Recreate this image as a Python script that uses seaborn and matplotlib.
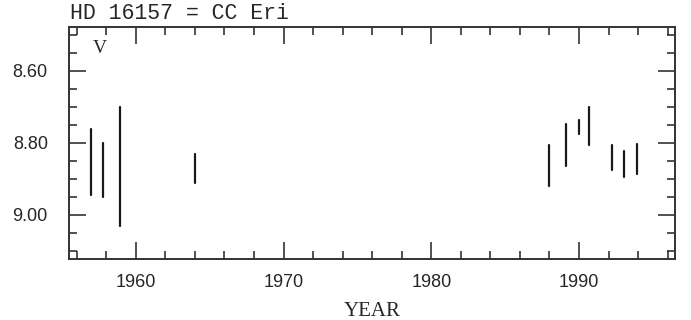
import matplotlib
matplotlib.use("Agg")
import matplotlib.pyplot as plt
from matplotlib.ticker import MultipleLocator, FormatStrFormatter
import seaborn as sns
import pandas as pd

# Data
years = [1957.0, 1957.8, 1958.9, 1964.0, 1988.0, 1989.1, 1990.0, 1990.7, 1992.2, 1993.05, 1993.9]
mag_bright = [8.762, 8.801, 8.701, 8.831, 8.807, 8.747, 8.737, 8.701, 8.807, 8.822, 8.802]
mag_faint = [8.945, 8.951, 9.031, 8.911, 8.920, 8.865, 8.776, 8.807, 8.876, 8.895, 8.886]

title = "HD 16157 = CC Eri"
band = "V"
xlabel = "YEAR"

rows = []
for i, (yr, b, f) in enumerate(zip(years, mag_bright, mag_faint)):
    rows.append({"year": yr, "mag": b, "id": i})
    rows.append({"year": yr, "mag": f, "id": i})
df = pd.DataFrame(rows)

sns.set_style("white")
fig = plt.figure(figsize=(6.91, 3.2), dpi=100)
ax = fig.add_axes([0.1003, 0.1906, 0.8766, 0.7241])

sns.lineplot(data=df, x="year", y="mag", units="id", estimator=None,
             color="#1a1a1a", linewidth=1.6, sort=False, ax=ax, legend=False)

ax.set_xlim(1955.5, 1996.5)
ax.set_ylim(9.122, 8.48)

ax.xaxis.set_major_locator(MultipleLocator(10))
ax.xaxis.set_minor_locator(MultipleLocator(2))
ax.yaxis.set_major_locator(MultipleLocator(0.2))
ax.yaxis.set_minor_locator(MultipleLocator(0.05))
ax.yaxis.set_major_formatter(FormatStrFormatter("%.2f"))
ax.xaxis.set_major_formatter(FormatStrFormatter("%d"))

ax.tick_params(which="both", direction="in", top=True, right=True,
               bottom=True, left=True, color="#222222", width=1.1)
ax.tick_params(which="major", length=12, labelsize=13)
ax.tick_params(which="minor", length=6)
ax.tick_params(axis="x", which="major", pad=11)
ax.tick_params(axis="y", which="major", pad=15.5)
for lab in ax.get_xticklabels() + ax.get_yticklabels():
    lab.set_family(["Liberation Sans", "DejaVu Sans"])

for sp in ax.spines.values():
    sp.set_color("#333333")
    sp.set_linewidth(1.4)

ax.set_xlabel(xlabel, family=["Liberation Serif", "DejaVu Serif"], fontsize=15, labelpad=8)
ax.set_ylabel("")

ax.text(0.05, 0.91, band, transform=ax.transAxes, ha="center", va="center",
        family=["Liberation Serif", "DejaVu Serif"], fontsize=14)

fig.text(69.5 / 691, 1 - 19 / 320, title, ha="left", va="baseline",
         family=["Liberation Mono", "DejaVu Sans Mono"], fontsize=15.5)

fig.savefig("out.png", dpi=100)
